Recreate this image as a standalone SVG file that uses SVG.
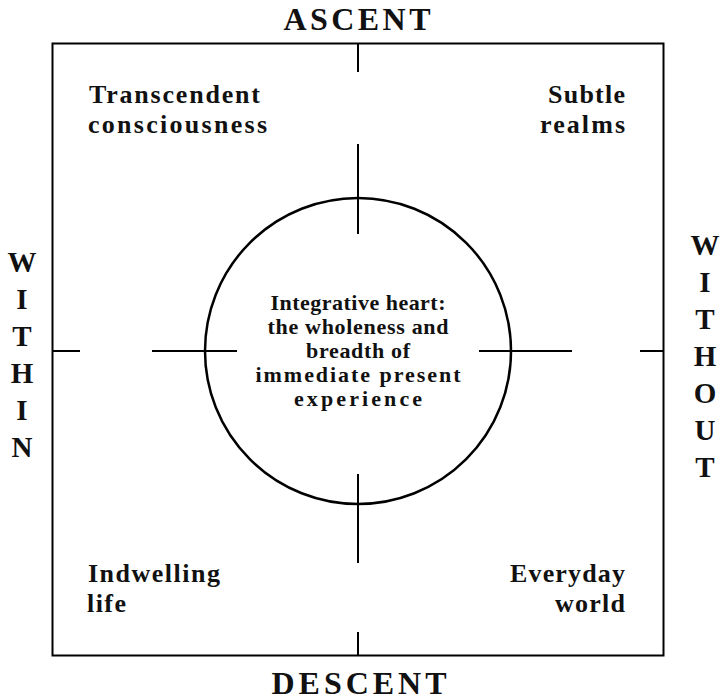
<svg xmlns="http://www.w3.org/2000/svg" width="720" height="700" viewBox="0 0 720 700">
<style>
  .frame { fill: none; stroke: #000; stroke-width: 2; }
  .tick { stroke: #000; stroke-width: 2; fill: none; }
  .circ { fill: none; stroke: #000; stroke-width: 2.5; }
  text { font-family: "Liberation Serif", "Times New Roman", serif; font-weight: bold; fill: #111; }
  .axis { font-size: 32px; text-anchor: middle; }
  .side { font-size: 29px; text-anchor: middle; }
  .corner { font-size: 26px; }
  .end { text-anchor: end; }
  .center { font-size: 22px; text-anchor: middle; }
</style>
<rect width="720" height="700" fill="#fff"/>

<g id="frame">
  <rect class="frame" x="52.5" y="43.5" width="611" height="612"/>
</g>

<g id="connectors">
  <line class="tick" x1="358" y1="43.5" x2="358" y2="72"/>
  <line class="tick" x1="358" y1="144" x2="358" y2="234"/>
  <line class="tick" x1="358" y1="474" x2="358" y2="563"/>
  <line class="tick" x1="358" y1="632" x2="358" y2="655.5"/>
  <line class="tick" x1="52.5" y1="351" x2="80" y2="351"/>
  <line class="tick" x1="152" y1="351" x2="237" y2="351"/>
  <line class="tick" x1="479" y1="351" x2="572" y2="351"/>
  <line class="tick" x1="640" y1="351" x2="663.5" y2="351"/>
</g>

<g id="heart">
  <circle class="circ" cx="358" cy="351" r="153"/>
  <text class="center" x="358" y="310" textLength="175">Integrative heart:</text>
  <text class="center" x="358" y="334" textLength="181">the wholeness and</text>
  <text class="center" x="358" y="358" textLength="104">breadth of</text>
  <text class="center" x="358" y="382" textLength="205">immediate present</text>
  <text class="center" x="358" y="406" textLength="128">experience</text>
</g>

<g id="ascent">
  <text class="axis" x="357" y="29.5" textLength="147">ASCENT</text>
</g>
<g id="descent">
  <text class="axis" x="359" y="694" textLength="175">DESCENT</text>
</g>

<g id="within">
  <text class="side" x="22" y="272">W</text>
  <text class="side" x="22" y="309">I</text>
  <text class="side" x="22" y="346">T</text>
  <text class="side" x="22" y="383">H</text>
  <text class="side" x="22" y="420">I</text>
  <text class="side" x="22" y="457">N</text>
</g>

<g id="without">
  <text class="side" x="705" y="255">W</text>
  <text class="side" x="705" y="292">I</text>
  <text class="side" x="705" y="329">T</text>
  <text class="side" x="705" y="366">H</text>
  <text class="side" x="705" y="403">O</text>
  <text class="side" x="705" y="440">U</text>
  <text class="side" x="705" y="477">T</text>
</g>

<g id="transcendent">
  <text class="corner" x="89" y="103" textLength="171">Transcendent</text>
  <text class="corner" x="88" y="133" textLength="179">consciousness</text>
</g>
<g id="subtle">
  <text class="corner end" x="625" y="103" textLength="77">Subtle</text>
  <text class="corner end" x="625" y="133" textLength="85">realms</text>
</g>
<g id="indwelling">
  <text class="corner" x="88" y="582" textLength="132">Indwelling</text>
  <text class="corner" x="87" y="612" textLength="39">life</text>
</g>
<g id="everyday">
  <text class="corner end" x="625" y="582" textLength="115">Everyday</text>
  <text class="corner end" x="625" y="612" textLength="70">world</text>
</g>
</svg>
